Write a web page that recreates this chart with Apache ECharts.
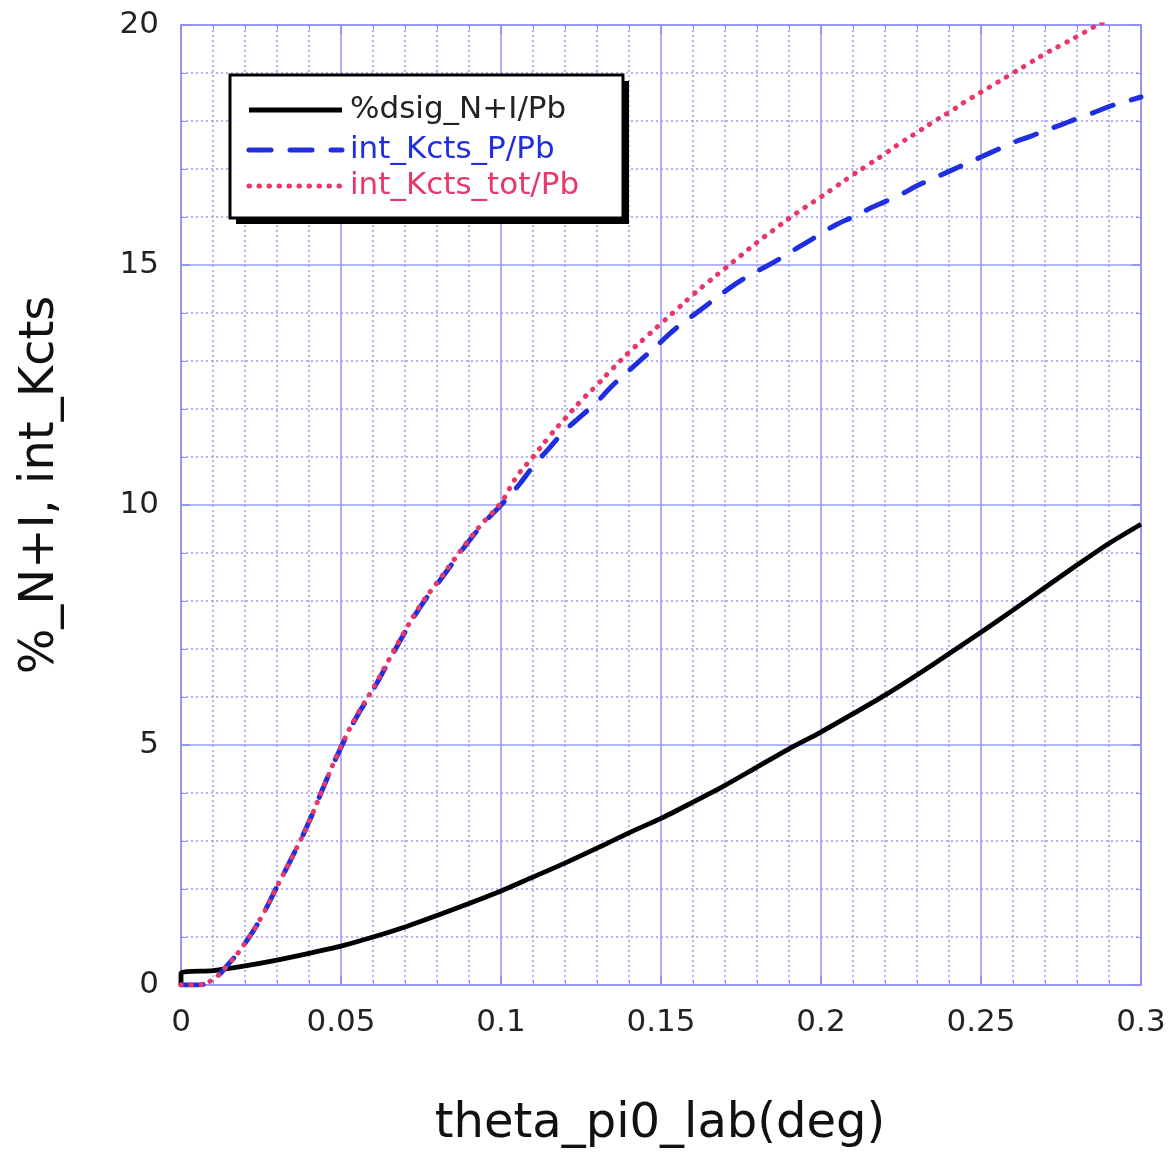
<!DOCTYPE html>
<html>
<head>
<meta charset="utf-8">
<script src="https://cdn.jsdelivr.net/npm/echarts@6/dist/echarts.min.js"></script>
<style>
html,body{margin:0;padding:0;background:#fff;}
#c{width:1171px;height:1155px;}
</style>
</head>
<body>
<div id="c"></div>
<script>
// ---- data ----
const seriesNames = ['%dsig_N+I/Pb', 'int_Kcts_P/Pb', 'int_Kcts_tot/Pb'];
const xTickLabels = ['0', '0.05', '0.1', '0.15', '0.2', '0.25', '0.3'];
const yTickLabels = ['0', '5', '10', '15', '20'];
const xTitle = 'theta_pi0_lab(deg)';
const yTitle = '%_N+I, int_Kcts';

const blackX = [0, 0, 0.01, 0.02, 0.03, 0.04, 0.05, 0.06, 0.07, 0.08, 0.09, 0.10, 0.11, 0.12, 0.13, 0.14, 0.15, 0.16, 0.17, 0.18, 0.19, 0.20, 0.21, 0.22, 0.23, 0.24, 0.25, 0.26, 0.27, 0.28, 0.29, 0.30];
const blackY = [0, 0.25, 0.30, 0.40, 0.52, 0.66, 0.81, 1.00, 1.21, 1.45, 1.70, 1.96, 2.25, 2.54, 2.85, 3.17, 3.47, 3.81, 4.16, 4.54, 4.92, 5.27, 5.65, 6.04, 6.46, 6.90, 7.35, 7.81, 8.28, 8.75, 9.20, 9.60];

const kX = [0, 0.005, 0.01, 0.015, 0.02, 0.025, 0.03, 0.035, 0.04, 0.045, 0.05, 0.055, 0.06, 0.065, 0.07, 0.075, 0.08, 0.085, 0.09, 0.095, 0.10, 0.105, 0.11, 0.115, 0.12, 0.125, 0.13, 0.135, 0.14, 0.145, 0.15, 0.155, 0.16, 0.165, 0.17, 0.175, 0.18, 0.185, 0.19, 0.195, 0.20, 0.205, 0.21, 0.215, 0.22, 0.225, 0.23, 0.235, 0.24, 0.245, 0.25, 0.255, 0.26, 0.265, 0.27, 0.275, 0.28, 0.285, 0.29, 0.295, 0.30];
const blueY = [0, 0.0, 0.12, 0.45, 0.87, 1.40, 2.05, 2.70, 3.40, 4.20, 4.95, 5.60, 6.15, 6.75, 7.35, 7.90, 8.35, 8.80, 9.25, 9.65, 10.00, 10.37, 10.80, 11.18, 11.55, 11.85, 12.15, 12.50, 12.80, 13.10, 13.40, 13.70, 13.95, 14.20, 14.45, 14.68, 14.87, 15.05, 15.25, 15.45, 15.65, 15.85, 16.00, 16.17, 16.32, 16.47, 16.65, 16.80, 16.95, 17.10, 17.25, 17.40, 17.55, 17.67, 17.80, 17.92, 18.05, 18.17, 18.30, 18.40, 18.50];
const redY = [0, 0.0, 0.12, 0.45, 0.87, 1.40, 2.05, 2.70, 3.40, 4.20, 4.97, 5.62, 6.18, 6.78, 7.38, 7.93, 8.38, 8.83, 9.28, 9.68, 10.05, 10.60, 11.00, 11.42, 11.80, 12.17, 12.50, 12.85, 13.18, 13.48, 13.78, 14.08, 14.38, 14.66, 14.93, 15.20, 15.47, 15.72, 15.97, 16.20, 16.42, 16.65, 16.88, 17.10, 17.32, 17.55, 17.76, 17.98, 18.18, 18.40, 18.60, 18.80, 19.00, 19.20, 19.40, 19.58, 19.76, 19.95, 20.12, 20.30, 20.45];

// ---- build ----
const pairs = (xs, ys) => xs.map((x, i) => [x, ys[i]]);
const gridBlue = '#8c8cf4';
const majorBlue = '#9b9bf6';
const minorBlue = '#8f8ff2';
const FONT = 'DejaVu Sans';
const colors = ['#000000', '#1f2fe0', '#e8386a'];
const textColors = ['#222222', '#1f2fe0', '#e8386a'];
const styles = [
  {width: 4.8, dash: null, cap: 'butt'},
  {width: 5, dash: [22, 19], cap: 'round'},
  {width: 5, dash: [0.5, 9.5], cap: 'round'}
];

const chart = echarts.init(document.getElementById('c'), null, {renderer: 'canvas'});

function mkX(pos, show) {
  return {
    type: 'value', position: pos, min: 0, max: 0.3, interval: 0.05,
    axisLine: {show: true, onZero: false, lineStyle: {color: gridBlue, width: 1.5}},
    axisTick: {show: true, inside: true, length: 9, lineStyle: {color: gridBlue, width: 1.5}},
    minorTick: {show: true, splitNumber: 5, length: 5, lineStyle: {color: gridBlue}},
    axisLabel: {show: show, margin: 22, fontFamily: FONT, fontSize: 31, color: '#222',
      formatter: v => xTickLabels[Math.round(v / 0.05)] ?? ''},
    splitLine: {show: show, lineStyle: {color: [majorBlue], width: 1.6, type: 'solid', opacity: 1}},
    minorSplitLine: {show: show, lineStyle: {color: minorBlue, type: [2, 3], width: 1.5, opacity: 0.9}}
  };
}
function mkY(pos, show) {
  return {
    type: 'value', position: pos, min: 0, max: 20, interval: 5,
    axisLine: {show: true, onZero: false, lineStyle: {color: gridBlue, width: 1.5}},
    axisTick: {show: true, inside: true, length: 9, lineStyle: {color: gridBlue, width: 1.5}},
    minorTick: {show: true, splitNumber: 5, length: 5, lineStyle: {color: gridBlue}},
    axisLabel: {show: show, margin: 22, fontFamily: FONT, fontSize: 31, color: '#222',
      formatter: v => yTickLabels[Math.round(v / 5)] ?? ''},
    splitLine: {show: show, lineStyle: {color: [majorBlue], width: 1.6, type: 'solid', opacity: 1}},
    minorSplitLine: {show: show, lineStyle: {color: minorBlue, type: [2, 3], width: 1.5, opacity: 0.9}}
  };
}

// legend drawn as graphic
const LX = 230, LY = 75, LW = 393, LH = 143;
const rowY = [110, 150, 186];
const legendEls = [
  {type: 'rect', shape: {x: LX + 6, y: LY + 6, width: LW, height: LH}, style: {fill: '#000'}, z: 100},
  {type: 'rect', shape: {x: LX, y: LY, width: LW, height: LH}, style: {fill: '#fff', stroke: '#000', lineWidth: 3}, z: 101}
];
seriesNames.forEach((n, i) => {
  legendEls.push({type: 'line', shape: {x1: 249, y1: rowY[i], x2: 342, y2: rowY[i]},
    style: {stroke: colors[i], lineWidth: styles[i].width, lineDash: styles[i].dash, lineCap: styles[i].cap}, z: 102});
  legendEls.push({type: 'text', x: 350, y: rowY[i],
    style: {text: n, fill: textColors[i], font: '31px "DejaVu Sans"', verticalAlign: 'middle', align: 'left'}, z: 102});
});

chart.setOption({
  backgroundColor: '#fff',
  animation: false,
  grid: {left: 181, right: 30, top: 25, bottom: 170},
  xAxis: [mkX('bottom', true), mkX('top', false)],
  yAxis: [mkY('left', true), mkY('right', false)],
  graphic: legendEls.concat([
    {type: 'text', x: 660, y: 1125, style: {text: xTitle, fill: '#111', font: '48px "DejaVu Sans"', align: 'center', verticalAlign: 'middle'}},
    {type: 'text', x: 41, y: 485, rotation: Math.PI / 2, style: {text: yTitle, fill: '#111', font: '48px "DejaVu Sans"', align: 'center', verticalAlign: 'middle'}}
  ]),
  series: seriesNames.map((n, i) => ({
    name: n, type: 'line', symbol: 'none', smooth: i > 0 ? true : 0.25,
    data: i === 0 ? pairs(blackX, blackY) : pairs(kX, i === 1 ? blueY : redY),
    lineStyle: {color: colors[i], width: styles[i].width, type: styles[i].dash || 'solid', cap: styles[i].cap},
    z: 3 + i
  }))
});
</script>
</body>
</html>
